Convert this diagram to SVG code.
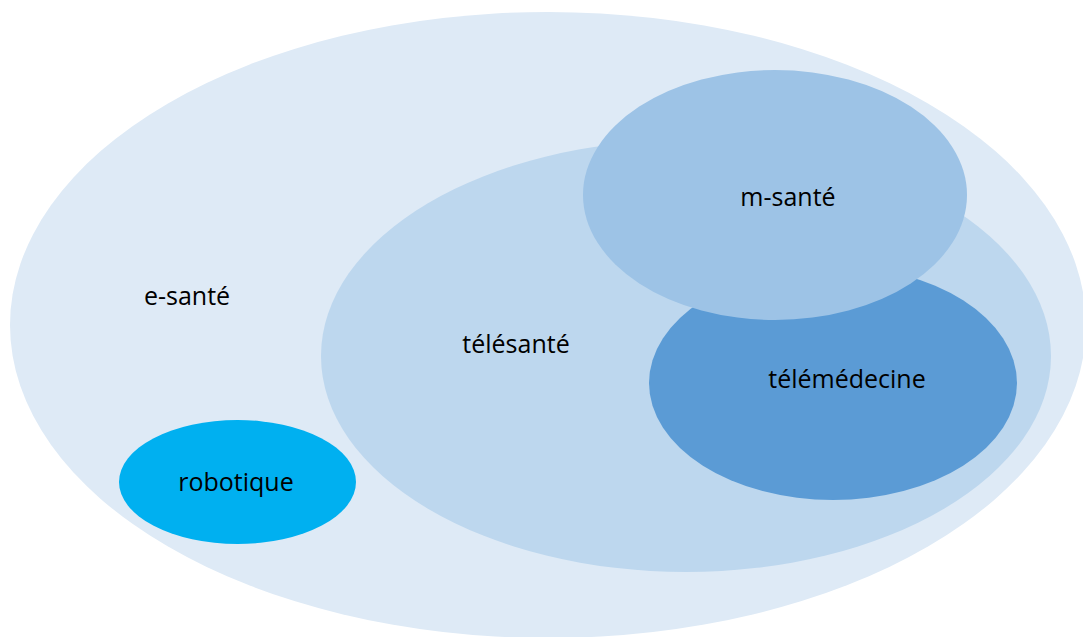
<svg xmlns="http://www.w3.org/2000/svg" width="1083" height="637" viewBox="0 0 1083 637">
<style>
text{font-family:"Open Sans","Liberation Sans",sans-serif;font-size:25px;fill:#000;text-anchor:middle}
</style>
<rect width="1083" height="637" fill="#ffffff"/>
<g id="e-sante">
<ellipse cx="548" cy="325" rx="538" ry="313" fill="#DEEAF6"/>
<text x="187" y="305">e-santé</text>
</g>
<g id="telesante">
<ellipse cx="686" cy="356" rx="365" ry="216" fill="#BDD7EE"/>
<text x="516" y="353">télésanté</text>
</g>
<g id="robotique">
<ellipse cx="237.5" cy="482" rx="118.5" ry="62" fill="#00B0F0"/>
<text x="236" y="491">robotique</text>
</g>
<g id="telemedecine">
<ellipse cx="833" cy="383" rx="184" ry="117" fill="#5B9BD5"/>
<text x="847" y="388">télémédecine</text>
</g>
<g id="m-sante">
<ellipse cx="775" cy="195" rx="192" ry="125" fill="#9DC3E6"/>
<text x="788" y="206">m-santé</text>
</g>
<g id="connectors"/>
</svg>
